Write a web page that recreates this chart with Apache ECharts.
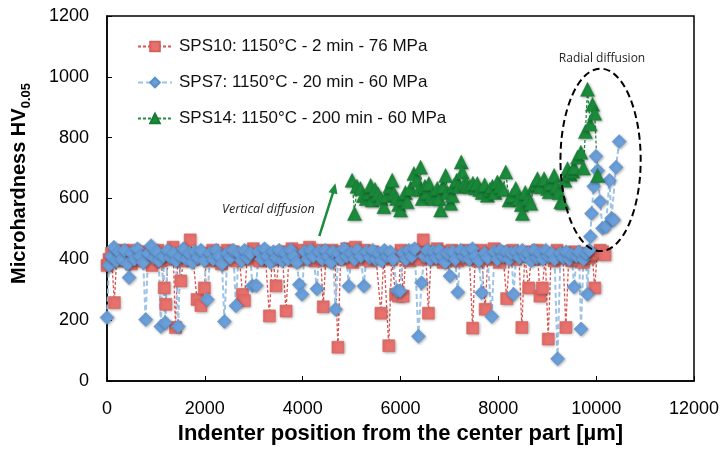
<!DOCTYPE html>
<html>
<head>
<meta charset="utf-8">
<script src="https://cdn.jsdelivr.net/npm/echarts@6/dist/echarts.min.js"></script>
<style>
  html, body { margin: 0; padding: 0; background: #fff; }
  #chart { width: 724px; height: 450px; }
</style>
</head>
<body>
<div id="chart"></div>
<script>
// [position µm, hardness HV0.05]
const sps10 = [
  [0,380],[40,400],[90,420],[150,258],[200,410],[260,395],[320,430],[380,405],[440,420],[500,385],
  [560,430],[620,400],[680,415],[740,395],[800,425],[860,405],[920,380],[980,420],[1040,430],[1100,395],
  [1170,306],[1200,252],[1250,420],[1300,400],[1350,440],[1400,176],[1450,415],[1510,329],[1560,395],[1620,420],
  [1700,464],[1760,400],[1840,268],[1920,248],[1990,306],[2040,420],[2100,395],[2160,430],[2220,405],[2280,420],
  [2340,385],[2400,415],[2460,430],[2520,400],[2580,425],[2640,395],[2700,415],[2770,285],[2810,264],[2870,420],
  [2930,400],[2990,435],[3060,410],[3120,395],[3180,425],[3240,405],[3320,214],[3380,420],[3455,313],[3520,400],
  [3580,425],[3660,230],[3720,410],[3780,435],[3840,395],[3900,420],[3960,405],[4020,430],[4080,400],[4140,440],
  [4200,415],[4260,395],[4320,430],[4370,405],[4420,244],[4480,420],[4540,395],[4600,430],[4660,410],[4720,111],
  [4780,425],[4840,400],[4900,435],[4960,410],[5020,390],[5080,440],[5140,415],[5200,400],[5260,430],[5320,410],
  [5380,395],[5440,425],[5500,405],[5600,223],[5660,415],[5760,116],[5820,400],[5900,285],[5960,279],[6010,430],
  [6055,279],[6110,410],[6170,395],[6230,425],[6290,405],[6350,430],[6410,400],[6465,464],[6520,410],[6570,223],
  [6630,425],[6690,400],[6750,435],[6810,410],[6870,390],[6930,425],[6990,400],[7050,430],[7110,410],[7170,395],
  [7230,425],[7290,405],[7350,430],[7410,400],[7475,174],[7530,420],[7590,395],[7650,430],[7730,236],[7790,420],
  [7850,400],[7910,435],[7970,410],[8030,390],[8090,425],[8170,271],[8230,410],[8290,430],[8350,400],[8420,420],
  [8480,176],[8540,410],[8620,306],[8680,425],[8740,400],[8800,430],[8850,279],[8900,306],[8960,410],[9020,138],
  [9080,420],[9140,395],[9200,430],[9260,405],[9320,420],[9380,176],[9440,410],[9500,395],[9560,425],[9620,400],
  [9680,415],[9740,390],[9800,420],[9860,405],[9920,415],[9970,306],[10020,420],[10080,430],[10130,425],[10180,415]
];

const sps7 = [
  [0,209],[40,380],[90,410],[140,440],[190,395],[240,425],[300,400],[360,430],[420,385],[450,340],
  [500,420],[560,400],[620,435],[680,410],[740,390],[790,202],[840,420],[900,445],[960,405],[1020,425],
  [1060,395],[1100,179],[1150,410],[1190,192],[1240,430],[1300,405],[1360,420],[1410,395],[1455,179],[1500,410],
  [1560,435],[1620,400],[1680,420],[1740,390],[1800,425],[1860,405],[1920,430],[1990,395],[2050,268],[2110,420],
  [2170,400],[2230,430],[2290,410],[2350,385],[2400,196],[2460,420],[2520,405],[2580,430],[2635,247],[2690,420],
  [2750,395],[2810,430],[2870,405],[2930,420],[2970,313],[3050,314],[3100,425],[3160,400],[3220,435],[3280,410],
  [3340,390],[3400,425],[3460,405],[3520,430],[3580,395],[3640,420],[3700,400],[3760,430],[3820,410],[3880,390],
  [3930,317],[3985,285],[4040,425],[4100,400],[4160,430],[4220,410],[4290,303],[4340,425],[4400,400],[4460,430],
  [4520,410],[4580,390],[4620,425],[4670,236],[4730,420],[4790,400],[4850,435],[4900,410],[4940,312],[5000,420],
  [5060,400],[5120,430],[5190,410],[5250,312],[5310,425],[5370,405],[5430,430],[5490,400],[5550,420],[5610,395],
  [5670,430],[5730,410],[5790,425],[5850,400],[5930,297],[5990,296],[6050,420],[6110,400],[6170,430],[6230,410],
  [6290,435],[6365,147],[6430,323],[6490,410],[6550,430],[6610,400],[6670,425],[6730,405],[6790,430],[6850,410],
  [6910,390],[6960,420],[7010,345],[7070,425],[7120,400],[7170,292],[7230,430],[7290,410],[7350,425],[7410,400],
  [7470,435],[7530,410],[7600,395],[7660,290],[7720,420],[7780,405],[7865,212],[7920,425],[7980,400],[8040,430],
  [8100,410],[8160,425],[8220,400],[8270,420],[8310,285],[8370,425],[8430,405],[8490,430],[8550,410],[8610,420],
  [8670,395],[8730,430],[8790,405],[8850,420],[8910,400],[8970,430],[9030,410],[9090,420],[9150,400],[9210,73],
  [9270,420],[9330,405],[9390,425],[9450,400],[9500,415],[9550,309],[9600,410],[9650,425],[9690,171],[9740,400],
  [9790,420],[9820,285],[9860,430],[9880,475],[9905,551],[9950,640],[9995,739],[10030,692],[10080,590],[10130,502],
  [10200,508],[10270,660],[10315,535],[10355,529],[10405,703],[10470,787]
];

const sps14 = [
  [5010,660],[5060,551],[5110,640],[5180,633],[5240,610],[5300,600],[5360,620],[5390,643],[5420,595],[5480,630],
  [5540,615],[5600,600],[5660,573],[5720,610],[5780,640],[5830,660],[5865,616],[5920,600],[5960,580],[6000,562],
  [6060,600],[6100,620],[6137,589],[6205,633],[6274,682],[6330,660],[6380,630],[6410,703],[6443,600],[6500,640],
  [6540,620],[6580,649],[6640,610],[6700,600],[6751,633],[6790,600],[6820,562],[6870,640],[6922,676],[6960,620],
  [7024,584],[7060,610],[7092,643],[7150,660],[7200,640],[7242,720],[7262,687],[7310,650],[7365,643],[7420,640],
  [7480,650],[7530,635],[7570,649],[7620,630],[7670,620],[7720,645],[7775,611],[7830,630],[7880,640],[7930,620],
  [7980,654],[8040,640],[8100,630],[8151,687],[8219,595],[8280,610],[8356,633],[8420,600],[8470,580],[8492,551],
  [8550,620],[8610,600],[8663,584],[8720,640],[8760,650],[8800,665],[8860,640],[8935,665],[9005,633],[9038,622],
  [9090,650],[9140,676],[9190,640],[9240,620],[9277,589],[9311,587],[9360,660],[9414,698],[9470,680],[9520,690],
  [9550,703],[9619,736],[9687,752],[9740,700],[9780,820],[9823,959],[9877,845],[9925,910],[9970,880],[10027,676]
];

const seriesNames = [
  'SPS10: 1150°C - 2 min - 76 MPa',
  'SPS7: 1150°C - 20 min - 60 MPa',
  'SPS14: 1150°C - 200 min - 60 MPa'
];

const font = 'Liberation Sans, Arial, sans-serif';
const shadow = { shadowBlur: 3, shadowColor: 'rgba(0,0,0,0.35)', shadowOffsetX: 1, shadowOffsetY: 1 };

const chart = echarts.init(document.getElementById('chart'));

chart.setOption({
  animation: false,
  textStyle: { fontFamily: font },
  grid: { left: 107, right: 30, top: 16, bottom: 66, show: true, borderColor: '#000', borderWidth: 1.5 },
  legend: {
    orient: 'vertical',
    left: 132,
    top: 33,
    itemGap: 19,
    itemWidth: 34,
    itemHeight: 12,
    textStyle: { fontSize: 17, color: '#111', fontFamily: font, padding: [0, 0, 0, 2] },
    data: seriesNames
  },
  xAxis: {
    type: 'value',
    min: 0,
    max: 12000,
    interval: 2000,
    name: 'Indenter position from the center part [µm]',
    nameLocation: 'middle',
    nameGap: 42,
    nameTextStyle: { fontSize: 22, fontWeight: 'bold', color: '#000' },
    axisLine: { lineStyle: { color: '#000', width: 1.5 } },
    axisTick: { inside: true, length: 5, lineStyle: { color: '#000' } },
    axisLabel: { fontSize: 18, color: '#000', margin: 19, formatter: v => String(v) },
    splitLine: { show: false }
  },
  yAxis: {
    type: 'value',
    min: 0,
    max: 1200,
    interval: 200,
    name: '{a|Microhardness HV}{b|0.05}',
    nameLocation: 'middle',
    nameGap: 74,
    nameTextStyle: {
      padding: [0, 0, 0, 30],
      rich: {
        a: { fontSize: 20, fontWeight: 'bold', color: '#000' },
        b: { fontSize: 13, fontWeight: 'bold', color: '#000', padding: [14, 0, 0, 0] }
      }
    },
    axisLine: { lineStyle: { color: '#000', width: 1.5 } },
    axisTick: { inside: true, length: 5, lineStyle: { color: '#000' } },
    axisLabel: { fontSize: 18, color: '#000', margin: 18, formatter: v => String(v) },
    splitLine: { show: false }
  },
  series: [
    {
      name: seriesNames[0],
      type: 'line',
      data: sps10,
      symbol: 'rect',
      symbolSize: 12,
      itemStyle: Object.assign({ color: '#E8716D', borderColor: '#D4605C', borderWidth: 0.5 }, shadow),
      lineStyle: { color: '#D9534F', width: 1.3, type: [3, 2] }
    },
    {
      name: seriesNames[1],
      type: 'line',
      data: sps7,
      symbol: 'diamond',
      symbolSize: 14,
      itemStyle: Object.assign({ color: '#6A9FDA', borderColor: '#5A8FCB', borderWidth: 0.5 }, shadow),
      lineStyle: { color: '#9DC3E6', width: 2, type: [5, 3] }
    },
    {
      name: seriesNames[2],
      type: 'line',
      data: sps14,
      symbol: 'triangle',
      symbolSize: 14,
      itemStyle: Object.assign({ color: '#1B8C3C', borderColor: '#167A33', borderWidth: 0.5 }, shadow),
      lineStyle: { color: '#1F8F3F', width: 1.3, type: [3, 2] }
    }
  ]
});

// annotations, placed from data coordinates
function px(x, y) { return chart.convertToPixel({ gridIndex: 0 }, [x, y]); }
const ellC = px(10090, 727);
const ellR = px(10910, 727);
const ellT = px(10090, 1027);
const arrowTail = px(4340, 476);
const arrowHead = px(4670, 650);
const vdText = px(3300, 565);
const rdText = px(10120, 1060);

chart.setOption({
  graphic: [
    {
      type: 'ellipse',
      shape: { cx: ellC[0], cy: ellC[1], rx: ellR[0] - ellC[0], ry: ellC[1] - ellT[1] },
      style: { fill: 'none', stroke: '#000', lineWidth: 2, lineDash: [7, 4] },
      z: 100
    },
    {
      type: 'line',
      shape: { x1: arrowTail[0], y1: arrowTail[1], x2: arrowHead[0] - 2, y2: arrowHead[1] + 8 },
      style: { stroke: '#1B8C3C', lineWidth: 2.5 },
      z: 100
    },
    {
      type: 'polygon',
      shape: { points: [[arrowHead[0], arrowHead[1]], [arrowHead[0] - 7, arrowHead[1] + 9], [arrowHead[0] + 2, arrowHead[1] + 11]] },
      style: { fill: '#1B8C3C' },
      z: 100
    },
    {
      type: 'text',
      x: vdText[0],
      y: vdText[1],
      style: { text: 'Vertical diffusion', fontSize: 12.5, fontStyle: 'italic', fontFamily: 'Open Sans, sans-serif', fill: '#222', align: 'center', verticalAlign: 'middle' },
      z: 100
    },
    {
      type: 'text',
      x: rdText[0],
      y: rdText[1],
      style: { text: 'Radial diffusion', fontSize: 12, fontFamily: 'Open Sans, sans-serif', fill: '#222', align: 'center', verticalAlign: 'middle' },
      z: 100
    }
  ]
});
</script>
</body>
</html>
